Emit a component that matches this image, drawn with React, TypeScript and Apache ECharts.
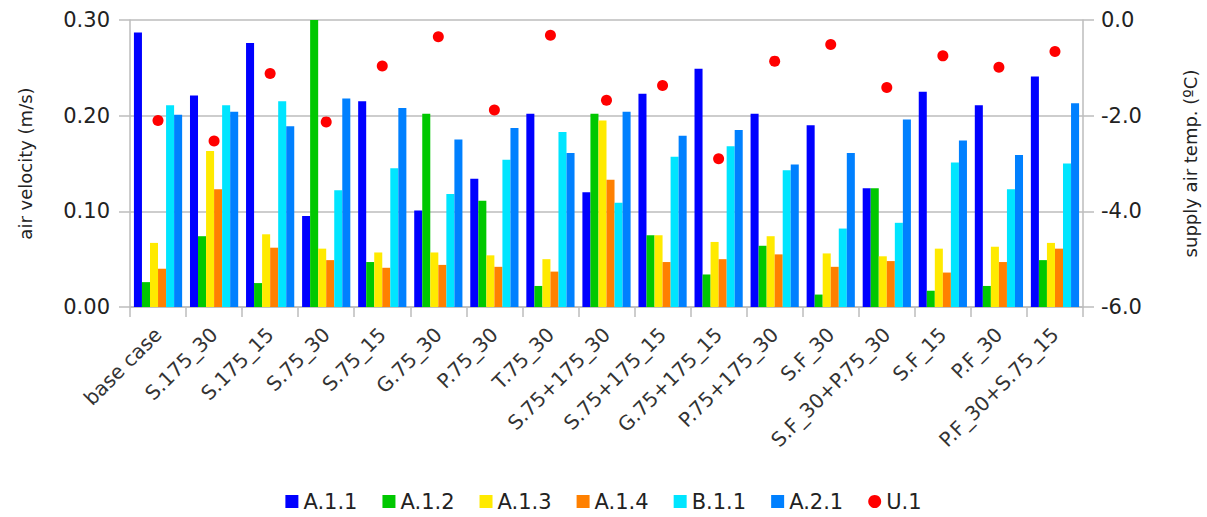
import React, { useEffect, useRef } from "react";
import * as echarts from "echarts";

const categories = [
  "base case", "S.175_30", "S.175_15", "S.75_30", "S.75_15", "G.75_30", "P.75_30", "T.75_30",
  "S.75+175_30", "S.75+175_15", "G.75+175_15", "P.75+175_30", "S.F_30", "S.F_30+P.75_30",
  "S.F_15", "P.F_30", "P.F_30+S.75_15",
];

const a11 = [0.287, 0.221, 0.276, 0.095, 0.215, 0.101, 0.134, 0.202, 0.120, 0.223, 0.249, 0.202, 0.190, 0.124, 0.225, 0.211, 0.241];
const a12 = [0.026, 0.074, 0.025, 0.300, 0.047, 0.202, 0.111, 0.022, 0.202, 0.075, 0.034, 0.064, 0.013, 0.124, 0.017, 0.022, 0.049];
const a13 = [0.067, 0.163, 0.076, 0.061, 0.057, 0.057, 0.054, 0.050, 0.195, 0.075, 0.068, 0.074, 0.056, 0.053, 0.061, 0.063, 0.067];
const a14 = [0.040, 0.123, 0.062, 0.049, 0.041, 0.044, 0.042, 0.037, 0.133, 0.047, 0.050, 0.055, 0.042, 0.048, 0.036, 0.047, 0.061];
const b11 = [0.211, 0.211, 0.215, 0.122, 0.145, 0.118, 0.154, 0.183, 0.109, 0.157, 0.168, 0.143, 0.082, 0.088, 0.151, 0.123, 0.150];
const a21 = [0.201, 0.204, 0.189, 0.218, 0.208, 0.175, 0.187, 0.161, 0.204, 0.179, 0.185, 0.149, 0.161, 0.196, 0.174, 0.159, 0.213];
const u1 = [-2.10, -2.53, -1.12, -2.13, -0.96, -0.35, -1.88, -0.32, -1.68, -1.37, -2.90, -0.86, -0.51, -1.41, -0.75, -0.99, -0.66];

const leftTicks = { min: 0, max: 0.3, interval: 0.1 };
const rightTicks = { min: -6, max: 0, interval: 2 };

const FONT = "DejaVu Sans";
const TXT = "#222222";
const GRID = "#bdbdbd";

export default function App() {
  const ref = useRef<HTMLDivElement>(null);
  useEffect(() => {
    document.body.style.margin = "0";
    if (!ref.current) return;
    const chart = echarts.init(ref.current, null, { renderer: "svg" });
    const bar = (name: string, data: number[], color: string) => ({
      name,
      type: "bar",
      data,
      yAxisIndex: 0,
      barGap: "0%",
      barCategoryGap: "14%",
      itemStyle: { color },
    });
    chart.setOption({
      animation: false,
      textStyle: { fontFamily: FONT },
      grid: { left: 130, right: 124, top: 20, bottom: 210, containLabel: false },
      legend: {
        bottom: 0,
        left: "center",
        itemWidth: 13,
        itemHeight: 13,
        itemGap: 25,
        textStyle: { fontSize: 21, color: TXT, fontFamily: FONT },
        data: [
          { name: "A.1.1", icon: "rect" },
          { name: "A.1.2", icon: "rect" },
          { name: "A.1.3", icon: "rect" },
          { name: "A.1.4", icon: "rect" },
          { name: "B.1.1", icon: "rect" },
          { name: "A.2.1", icon: "rect" },
          { name: "U.1", icon: "circle" },
        ],
      },
      xAxis: {
        type: "category",
        data: categories,
        axisLine: { lineStyle: { color: GRID, width: 1.5 } },
        axisTick: { show: true, length: 10, lineStyle: { color: GRID, width: 1.5 } },
        axisLabel: { rotate: 45, fontSize: 20, color: "#333333", margin: 24, fontFamily: FONT },
        splitLine: { show: false },
      },
      yAxis: [
        {
          type: "value",
          min: leftTicks.min,
          max: leftTicks.max,
          interval: leftTicks.interval,
          name: "air velocity (m/s)",
          nameLocation: "middle",
          nameRotate: 90,
          nameGap: 96,
          nameTextStyle: { fontSize: 18, color: TXT, fontFamily: FONT },
          axisLine: { show: true, lineStyle: { color: GRID, width: 1.5 } },
          axisTick: { show: true, length: 11, lineStyle: { color: GRID, width: 1.5 } },
          axisLabel: { fontSize: 21, color: TXT, margin: 20, formatter: (v: number) => v.toFixed(2) },
          splitLine: { show: true, lineStyle: { color: GRID, width: 1.5 } },
        },
        {
          type: "value",
          position: "right",
          min: rightTicks.min,
          max: rightTicks.max,
          interval: rightTicks.interval,
          name: "supply air temp. (ºC)",
          nameLocation: "middle",
          nameRotate: 90,
          nameGap: 98,
          nameTextStyle: { fontSize: 18, color: TXT, fontFamily: FONT },
          axisLine: { show: true, lineStyle: { color: GRID, width: 1.5 } },
          axisTick: { show: true, length: 11, lineStyle: { color: GRID, width: 1.5 } },
          axisLabel: { fontSize: 21, color: TXT, margin: 18, formatter: (v: number) => v.toFixed(1) },
          splitLine: { show: false },
        },
      ],
      series: [
        bar("A.1.1", a11, "#0000ff"),
        bar("A.1.2", a12, "#00c800"),
        bar("A.1.3", a13, "#ffea00"),
        bar("A.1.4", a14, "#ff8000"),
        bar("B.1.1", b11, "#00e5ff"),
        bar("A.2.1", a21, "#0080ff"),
        {
          name: "U.1",
          type: "scatter",
          yAxisIndex: 1,
          data: u1,
          symbol: "circle",
          symbolSize: 11,
          itemStyle: { color: "#ff0000", opacity: 1 },
          z: 5,
        },
      ],
    });
    return () => chart.dispose();
  }, []);
  return <div ref={ref} style={{ width: 1207, height: 517 }} />;
}
